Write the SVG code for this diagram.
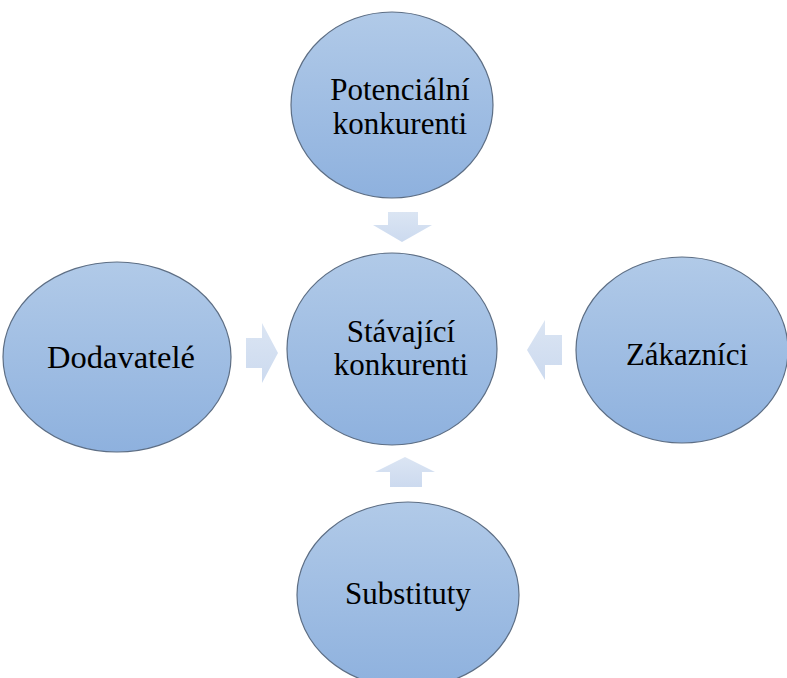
<svg xmlns="http://www.w3.org/2000/svg" width="787" height="678" viewBox="0 0 787 678">
<defs>
<linearGradient id="g" x1="0" y1="0" x2="0" y2="1">
<stop offset="0" stop-color="#b1cae8"/>
<stop offset="1" stop-color="#8eb1de"/>
</linearGradient>
<linearGradient id="ga" x1="0" y1="0" x2="0" y2="1">
<stop offset="0" stop-color="#dbe5f3"/>
<stop offset="1" stop-color="#ccdaef"/>
</linearGradient>
</defs>
<style>
.n{fill:url(#g);stroke:#5d6e84;stroke-width:1.2}
.t{font-family:"Liberation Serif","Times New Roman",serif;font-size:31px;fill:#000;text-anchor:middle}
.a{fill:url(#ga);stroke:none}
</style>
<rect width="787" height="678" fill="#fff"/>
<g id="connectors">
<polygon class="a" points="388,212 418,212 418,225 432,225 402,242 373,225 388,225"/>
<polygon class="a" points="246,338 262,338 262,323 278,353 262,383 262,368 246,368"/>
<polygon class="a" points="562,335 545,335 545,320 527,350 545,380 545,365 562,365"/>
<polygon class="a" points="390,487 422,487 422,472 435,472 405,457 375,472 390,472"/>
</g>
<g id="potencialni">
<ellipse class="n" cx="392" cy="105" rx="101" ry="93"/>
<text class="t" x="400" y="100">Potenciální</text>
<text class="t" x="400" y="134">konkurenti</text>
</g>
<g id="stavajici">
<ellipse class="n" cx="392" cy="349" rx="105" ry="96"/>
<text class="t" x="401" y="342">Stávající</text>
<text class="t" x="401" y="375">konkurenti</text>
</g>
<g id="dodavatele">
<ellipse class="n" cx="117" cy="357" rx="114" ry="95"/>
<text class="t" x="121" y="368" style="font-size:32.5px">Dodavatelé</text>
</g>
<g id="zakaznici">
<ellipse class="n" cx="682" cy="350" rx="106" ry="93"/>
<text class="t" x="687" y="365">Zákazníci</text>
</g>
<g id="substituty">
<ellipse class="n" cx="408" cy="595" rx="111" ry="93"/>
<text class="t" x="408" y="604">Substituty</text>
</g>
</svg>
